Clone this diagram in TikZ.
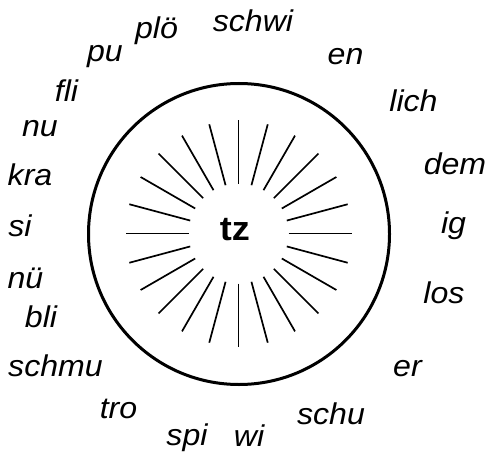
\documentclass[tikz,border=0pt]{standalone}
\usepackage{fontspec}
\setmainfont{Liberation Sans}
\newfontfamily\lblfont[FakeStretch=1.07]{Liberation Sans}
\newfontfamily\ctrfont[FakeStretch=1.06]{Liberation Sans}
\usetikzlibrary{calc}
\begin{document}
\begin{tikzpicture}[x=1pt,y=-1pt,
  lbl/.style={anchor=base,inner sep=0pt,font=\lblfont\fontsize{30}{30}\selectfont\itshape},
  ray/.style={line width=1.7pt},
  ring/.style={line width=3pt}]
\useasboundingbox (0,0) rectangle (489,457);
\coordinate (c) at (238.5,233.5);
\draw[ring] (239,234) circle[radius=150.5];
\foreach \a in {0,15,...,345}{
  \draw[ray] ($(c)+(\a:50)$) -- ($(c)+(\a:113)$);
}
\node[anchor=base,inner sep=0pt,font=\ctrfont\fontsize{34}{34}\selectfont\bfseries] (tz) at (235,240) {tz};
\node[lbl] (schwi) at (253,31.7) {schwi};
\node[lbl] (plo) at (156.5,38.5) {plö};
\node[lbl] (pu) at (105,61.7) {pu};
\node[lbl] (en) at (345.5,65) {en};
\node[lbl] (fli) at (66.5,101.7) {fli};
\node[lbl] (lich) at (413.5,111.7) {lich};
\node[lbl] (nu) at (40,136.7) {nu};
\node[lbl] (dem) at (455,175) {dem};
\node[lbl] (kra) at (30,185) {kra};
\node[lbl] (si) at (20,236.7) {si};
\node[lbl] (ig) at (453.5,233) {ig};
\node[lbl] (nue) at (25.5,288) {nü};
\node[lbl] (los) at (444,303) {los};
\node[lbl] (bli) at (41,327.5) {bli};
\node[lbl] (schmu) at (55.5,376.7) {schmu};
\node[lbl] (er) at (407.5,376) {er};
\node[lbl] (tro) at (118.5,418) {tro};
\node[lbl] (schu) at (331,424) {schu};
\node[lbl] (spi) at (187,445) {spi};
\node[lbl] (wi) at (249,446.7) {wi};
\end{tikzpicture}
\end{document}
